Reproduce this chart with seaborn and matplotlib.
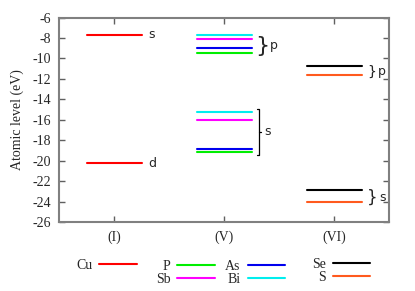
import pandas as pd
import matplotlib
matplotlib.use("Agg")
import matplotlib.pyplot as plt
from matplotlib.lines import Line2D
import seaborn as sns

# atomic levels (eV)
elements = ['Cu', 'P', 'As', 'Sb', 'Bi', 'Se', 'S']
groups = ['(I)', '(V)', '(V)', '(V)', '(V)', '(VI)', '(VI)']
upper_orbital = ['s', 'p', 'p', 'p', 'p', 'p', 'p']
upper_level = [-7.7, -9.5, -8.95, -8.1, -7.75, -10.7, -11.6]
lower_orbital = ['d', 's', 's', 's', 's', 's', 's']
lower_level = [-20.25, -19.2, -18.9, -16.05, -15.2, -22.85, -24.0]
group_names = ['(I)', '(V)', '(VI)']
colors = ['#ff0000', '#00ee00', '#0000ee', '#ff00ff', '#00eeee', '#000000', '#ff5a1e']

palette = dict(zip(elements, colors))
gpos = {g: i + 1 for i, g in enumerate(group_names)}
half = 0.25

rows = []
for el, g, uo, ul, lo, ll in zip(elements, groups, upper_orbital, upper_level,
                                 lower_orbital, lower_level):
    for orb, lev in [(uo, ul), (lo, ll)]:
        for dx in (-half, half):
            rows.append({'element': el, 'group': g, 'orbital': orb,
                         'unit': f'{el}-{orb}', 'x': gpos[g] + dx, 'level': lev})
df = pd.DataFrame(rows)

sns.set_theme(style="ticks")
plt.rcParams['font.family'] = ['Liberation Serif', 'DejaVu Serif']

fig = plt.figure(figsize=(4.15, 2.91), dpi=100)
ax = fig.add_axes([0.1422, 0.2371, 0.7952, 0.7027])

sns.lineplot(data=df, x='x', y='level', hue='element', units='unit',
             estimator=None, palette=palette, linewidth=1.5, legend=False, ax=ax)

ax.set_xlim(0.5, 3.5)
ax.set_ylim(-26, -6)
ax.set_xticks([gpos[g] for g in group_names])
ax.set_xticklabels(group_names, fontsize=10)
ax.set_yticks(range(-26, -5, 2))
ax.set_yticklabels([str(v) for v in range(-26, -5, 2)], fontsize=10)
ax.set_xlabel('')
ax.set_ylabel('Atomic level (eV)', fontsize=10, labelpad=6)
ax.tick_params(direction='in', length=4, width=1, color='#606060',
               top=True, right=True, pad=6)
for sp in ax.spines.values():
    sp.set_color('#808080')
    sp.set_linewidth(1.5)
    sp.set_visible(True)

sans = ['DejaVu Sans']
# Cu orbital labels
ax.text(1 + half + 0.06, upper_level[0], 's', family=sans, fontsize=9, va='center')
ax.text(1 + half + 0.06, lower_level[0], 'd', family=sans, fontsize=9, va='center')

# (V) p brace
v_up = [l for l, g in zip(upper_level, groups) if g == '(V)']
v_lo = [l for l, g in zip(lower_level, groups) if g == '(V)']
ax.text(2 + half + 0.03, (max(v_up) + min(v_up)) / 2, '}', family=sans,
        fontsize=16, va='center_baseline')
ax.text(2 + half + 0.17, (max(v_up) + min(v_up)) / 2, 'p', family=sans,
        fontsize=9, va='center_baseline')

# (V) s bracket
bx = 2 + half + 0.07
top, bot = max(v_lo) + 0.3, min(v_lo) - 0.25
mid = (top + bot) / 2
ax.plot([bx - 0.02, bx, bx, bx - 0.02], [top, top, bot, bot], color='black', lw=0.9)
ax.plot([bx, bx + 0.015], [mid, mid], color='black', lw=0.9)
ax.text(bx + 0.05, mid, 's', family=sans, fontsize=9, va='center')

# (VI) braces
vi_up = [l for l, g in zip(upper_level, groups) if g == '(VI)']
vi_lo = [l for l, g in zip(lower_level, groups) if g == '(VI)']
ax.text(3 + half + 0.05, sum(vi_up) / 2, '}', family=sans, fontsize=10,
        va='center_baseline')
ax.text(3 + half + 0.15, sum(vi_up) / 2, 'p', family=sans, fontsize=9,
        va='center_baseline')
ax.text(3 + half + 0.05, sum(vi_lo) / 2, '}', family=sans, fontsize=12,
        va='center_baseline')
ax.text(3 + half + 0.16, sum(vi_lo) / 2, 's', family=sans, fontsize=9,
        va='center_baseline')

# gnuplot style key: label then line, in four blocks
def key(names, anchor):
    handles = [Line2D([], [], color=palette[n], lw=1.5) for n in names]
    leg = fig.legend(handles, names, loc='center right', bbox_to_anchor=anchor,
                     markerfirst=False, frameon=False, fontsize=10,
                     handlelength=2.7, handletextpad=0.5, labelspacing=0.0,
                     borderpad=0, borderaxespad=0)
    return leg

key(['Cu'], (0.330, 0.0893))
key(['P', 'Sb'], (0.518, 0.0619))
key(['As', 'Bi'], (0.687, 0.0619))
key(['Se', 'S'], (0.8916, 0.0687))

fig.savefig('out.png', dpi=100)
